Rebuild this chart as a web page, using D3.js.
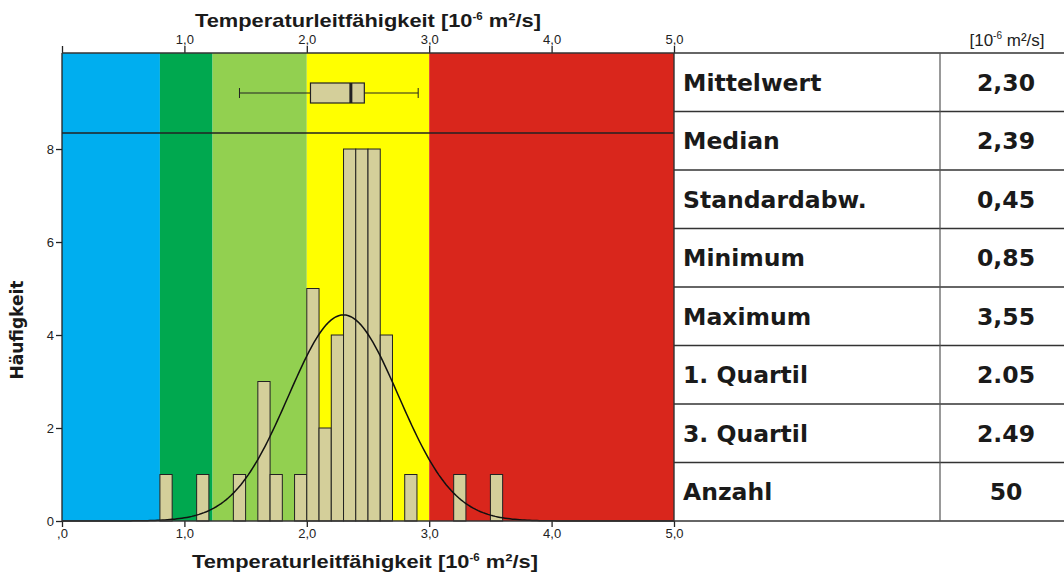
<!DOCTYPE html>
<html>
<head>
<meta charset="utf-8">
<script src="https://cdn.jsdelivr.net/npm/d3@7"></script>
<style>
  body { margin: 0; background: #fff; }
  svg { display: block; }
  .tick text { font-family: "Liberation Sans", Arial, sans-serif; font-size: 13px; fill: #222; }
</style>
</head>
<body>
<svg id="chart" width="1064" height="574"></svg>
<script>
// histogram bins (lower edge, width 0.1) and counts
const binStarts = [0.8, 1.1, 1.4, 1.6, 1.7, 1.9, 2.0, 2.1, 2.2, 2.3, 2.4, 2.5, 2.6, 2.8, 3.2, 3.5];
const binCounts = [1, 1, 1, 3, 1, 1, 5, 2, 4, 8, 8, 8, 4, 1, 1, 1];
const binWidth = 0.1;

// coloured classes along the x axis
const bandEdges = [0, 0.8, 1.23, 2.0, 3.0, 5.0];
const bandColors = ["#00aeef", "#00a84f", "#92d050", "#ffff00", "#d9261c"];

// boxplot: lower whisker, Q1, median, Q3, upper whisker
const boxStats = [1.45, 2.03, 2.36, 2.47, 2.91];

// normal fit
const fitMean = 2.30, fitSd = 0.45, fitN = 50;

const statLabels = ["Mittelwert", "Median", "Standardabw.", "Minimum", "Maximum", "1. Quartil", "3. Quartil", "Anzahl"];
const statValues = ["2,30", "2,39", "0,45", "0,85", "3,55", "2.05", "2.49", "50"];

const xTicks = [0, 1, 2, 3, 4, 5];
const yTicks = [0, 2, 4, 6, 8];

const svg = d3.select("#chart");
const plot = {left: 62, right: 674, top: 53, bottom: 521, boxBottom: 133};
const barFill = "#d4cf9a";

const x = d3.scaleLinear().domain([0, 5]).range([plot.left, plot.right]);
const y = d3.scaleLinear().domain([0, 10.065]).range([plot.bottom, plot.top]);

// background bands
svg.append("g").selectAll("rect")
    .data(bandColors)
    .join("rect")
    .attr("x", (d, i) => x(bandEdges[i]))
    .attr("y", plot.top)
    .attr("width", (d, i) => x(bandEdges[i + 1]) - x(bandEdges[i]))
    .attr("height", plot.bottom - plot.top)
    .attr("fill", d => d);

// histogram bars
svg.append("g").selectAll("rect")
    .data(binStarts)
    .join("rect")
    .attr("x", d => x(d))
    .attr("y", (d, i) => y(binCounts[i]))
    .attr("width", x(binWidth) - x(0))
    .attr("height", (d, i) => y(0) - y(binCounts[i]))
    .attr("fill", barFill)
    .attr("stroke", "#222")
    .attr("stroke-width", 1);

// normal curve scaled to counts
const pdf = v => Math.exp(-0.5 * ((v - fitMean) / fitSd) ** 2) / (fitSd * Math.sqrt(2 * Math.PI));
const curvePts = d3.range(0, 5.001, 0.02).map(v => [v, fitN * binWidth * pdf(v)]);
svg.append("path")
    .datum(curvePts)
    .attr("fill", "none")
    .attr("stroke", "#111")
    .attr("stroke-width", 1.5)
    .attr("d", d3.line().x(d => x(d[0])).y(d => y(d[1])));

// separator between boxplot panel and histogram
svg.append("line")
    .attr("x1", plot.left).attr("x2", plot.right)
    .attr("y1", plot.boxBottom).attr("y2", plot.boxBottom)
    .attr("stroke", "#222").attr("stroke-width", 1.3);

// boxplot
const bc = (plot.top + plot.boxBottom) / 2, bh = 20;
const box = svg.append("g").attr("stroke", "#222");
box.append("line").attr("x1", x(boxStats[0])).attr("x2", x(boxStats[1])).attr("y1", bc).attr("y2", bc);
box.append("line").attr("x1", x(boxStats[3])).attr("x2", x(boxStats[4])).attr("y1", bc).attr("y2", bc);
box.selectAll(".cap")
    .data([boxStats[0], boxStats[4]])
    .join("line")
    .attr("x1", d => x(d)).attr("x2", d => x(d))
    .attr("y1", bc - 5).attr("y2", bc + 5);
box.append("rect")
    .attr("x", x(boxStats[1])).attr("y", bc - bh / 2)
    .attr("width", x(boxStats[3]) - x(boxStats[1])).attr("height", bh)
    .attr("fill", barFill).attr("stroke-width", 1.2);
box.append("line")
    .attr("x1", x(boxStats[2])).attr("x2", x(boxStats[2]))
    .attr("y1", bc - bh / 2).attr("y2", bc + bh / 2)
    .attr("stroke-width", 3);

// axes
const fmt = d => d === 0 ? ",0" : d3.format(".1f")(d).replace(".", ",");
const xb = svg.append("g")
    .attr("transform", `translate(0,${plot.bottom})`)
    .call(d3.axisBottom(x).tickValues(xTicks).tickFormat(fmt).tickSize(6).tickPadding(2));
const xt = svg.append("g")
    .attr("transform", `translate(0,${plot.top})`)
    .call(d3.axisTop(x).tickValues(xTicks).tickFormat(d => d === 0 ? "" : fmt(d)).tickSize(7).tickPadding(2));
const ya = svg.append("g")
    .attr("transform", `translate(${plot.left},0)`)
    .call(d3.axisLeft(y).tickValues(yTicks).tickSize(6).tickPadding(2));
[xb, xt, ya].forEach(g => {
    g.select(".domain").remove();
    g.selectAll(".tick line").attr("stroke", "#222").attr("stroke-width", 1.3);
});

// left frame line
svg.append("line").attr("x1", plot.left).attr("x2", plot.left).attr("y1", plot.top).attr("y2", plot.bottom)
    .attr("stroke", "#222").attr("stroke-width", 1.3);

// stats table
const tableRight = 1064, colSplit = 940;
const rowH = (plot.bottom - plot.top) / statLabels.length;
const rowY = d3.scaleLinear().domain([0, statLabels.length]).range([plot.top, plot.bottom]);
const table = svg.append("g");
table.selectAll(".rowline")
    .data(d3.range(statLabels.length + 1))
    .join("line")
    .attr("x1", d => (d === 0 || d === statLabels.length) ? plot.left : plot.right)
    .attr("x2", tableRight)
    .attr("y1", d => rowY(d)).attr("y2", d => rowY(d))
    .attr("stroke", "#333").attr("stroke-width", 1.4);
table.append("line").attr("x1", plot.right).attr("x2", plot.right).attr("y1", plot.top).attr("y2", plot.bottom)
    .attr("stroke", "#333").attr("stroke-width", 1.4);
table.append("line").attr("x1", colSplit).attr("x2", colSplit).attr("y1", plot.top).attr("y2", plot.bottom)
    .attr("stroke", "#555").attr("stroke-width", 1.2);
table.selectAll(".lab")
    .data(statLabels)
    .join("text")
    .attr("x", 683)
    .attr("y", (d, i) => rowY(i) + rowH / 2 + 8.5)
    .style("font-family", "'DejaVu Sans', sans-serif")
    .style("font-weight", "bold")
    .style("font-size", "23.5px")
    .attr("fill", "#1a1a1a")
    .text(d => d);
table.selectAll(".val")
    .data(statValues)
    .join("text")
    .attr("x", 1006)
    .attr("y", (d, i) => rowY(i) + rowH / 2 + 8.5)
    .attr("text-anchor", "middle")
    .style("font-family", "'DejaVu Sans', sans-serif")
    .style("font-weight", "bold")
    .style("font-size", "23.5px")
    .attr("fill", "#1a1a1a")
    .text(d => d);

// unit label over the table
const unit = svg.append("text")
    .attr("x", 1007).attr("y", 46)
    .attr("text-anchor", "middle")
    .style("font-family", "'Liberation Sans', Arial, sans-serif")
    .style("font-size", "17px")
    .attr("fill", "#222");
unit.append("tspan").text("[10");
unit.append("tspan").attr("dy", -7).style("font-size", "10px").text("-6");
unit.append("tspan").attr("dy", 7).text(" m²/s]");

// axis titles
function axisTitle(cx, cy) {
    const t = svg.append("text")
        .attr("x", cx).attr("y", cy)
        .attr("text-anchor", "middle")
        .attr("textLength", 346)
        .attr("lengthAdjust", "spacingAndGlyphs")
        .style("font-family", "'Liberation Sans Narrow', 'Liberation Sans', Arial, sans-serif")
        .style("font-weight", "bold")
        .style("font-size", "19px")
        .attr("fill", "#1a1a1a");
    t.append("tspan").text("Temperaturleitfähigkeit [10");
    t.append("tspan").attr("dy", -7).style("font-size", "10px").text("-6");
    t.append("tspan").attr("dy", 7).text(" m²/s]");
}
axisTitle(368, 27);
axisTitle(365, 568);

svg.append("text")
    .attr("transform", "translate(23,330) rotate(-90)")
    .attr("text-anchor", "middle")
    .style("font-family", "'DejaVu Sans', sans-serif")
    .style("font-weight", "bold")
    .style("font-size", "17px")
    .attr("fill", "#1a1a1a")
    .text("Häufigkeit");
</script>
</body>
</html>
